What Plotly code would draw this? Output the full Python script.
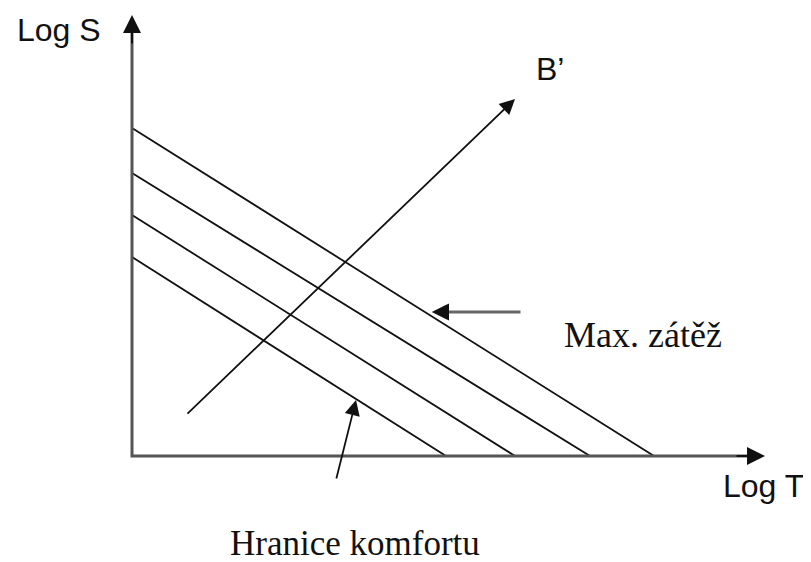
import plotly.graph_objects as go

# ---- Chart values (axis units: Log T horizontally, Log S vertically) ----
logS_intercepts = [3.98, 4.82, 5.66, 6.56]      # where each line meets the Log S axis
logT_intercepts = [6.28, 7.66, 9.16, 10.44]     # where each line meets the Log T axis
axis_titles = ["Log T", "Log S"]
axis_tips = [12.66, 8.82]                       # arrow tips of the T and S axes
b_arrow_tail = [1.08, 0.82]
b_arrow_tip = [7.66, 7.14]
b_label = "B’"
max_label = "Max. zátěž"
max_arrow_tail = [7.8, 2.88]
max_arrow_tip = [6.0, 2.88]
comfort_label = "Hranice komfortu"
comfort_arrow_tail = [4.08, -0.48]
comfort_arrow_tip = [4.48, 1.12]

# label anchor positions (axis units)
logS_label_pos = [-1.47, 8.53]
logT_label_pos = [12.62, -0.60]
b_label_pos = [8.36, 7.74]
max_label_pos = [10.22, 2.42]
comfort_label_pos = [4.46, -1.74]

fig = go.Figure()

# diagonal iso-lines
for s0, t0 in zip(logS_intercepts, logT_intercepts):
    fig.add_trace(go.Scatter(x=[0, t0], y=[s0, 0], mode="lines",
                             line=dict(color="#111111", width=1.8),
                             hoverinfo="skip", showlegend=False))

# axis lines (grey)
fig.add_trace(go.Scatter(x=[0, 0, axis_tips[0] - 0.2], y=[axis_tips[1] - 0.2, 0, 0],
                         mode="lines", line=dict(color="#555555", width=3),
                         hoverinfo="skip", showlegend=False))

ann = []
def arrow(tail, tip, color="#111111", width=1.8, size=1.6):
    ann.append(dict(x=tip[0], y=tip[1], ax=tail[0], ay=tail[1],
                    xref="x", yref="y", axref="x", ayref="y",
                    showarrow=True, arrowhead=2, arrowsize=size,
                    arrowwidth=width, arrowcolor=color, text="", standoff=0))

# axis arrowheads
arrow([0, axis_tips[1] - 0.6], [0, axis_tips[1]], width=2, size=1.8)
arrow([axis_tips[0] - 0.6, 0], [axis_tips[0], 0], width=2, size=1.8)
# B' arrow
arrow(b_arrow_tail, b_arrow_tip, width=1.8, size=1.7)
# Max. zátěž arrow (grey shaft, black head)
arrow(max_arrow_tail, max_arrow_tip, color="#666666", width=3, size=1.0)
ann.append(dict(x=max_arrow_tip[0], y=max_arrow_tip[1], ax=max_arrow_tip[0] + 0.3, ay=max_arrow_tip[1],
                xref="x", yref="y", axref="x", ayref="y", showarrow=True, arrowhead=2,
                arrowsize=1.7, arrowwidth=2, arrowcolor="#111111", text="", standoff=0))
# Hranice komfortu arrow
arrow(comfort_arrow_tail, comfort_arrow_tip, width=1.8, size=1.7)

sans = "Liberation Sans, Arial, sans-serif"
serif = "Liberation Serif, Times New Roman, serif"
def label(txt, pos, fam, size):
    ann.append(dict(x=pos[0], y=pos[1], xref="x", yref="y", text=txt, showarrow=False,
                    font=dict(family=fam, size=size, color="#111111"),
                    xanchor="center", yanchor="middle"))

label(axis_titles[1], logS_label_pos, sans, 32)
label(axis_titles[0], logT_label_pos, sans, 32)
label(b_label, b_label_pos, sans, 32)
label(max_label, max_label_pos, serif, 36)
label(comfort_label, comfort_label_pos, serif, 35)

# page has an 8px body margin: the figure starts 8px in from the top-left
fig.update_layout(
    width=803, height=554,
    margin=dict(l=0, r=0, t=0, b=0),
    paper_bgcolor="white", plot_bgcolor="white",
    xaxis=dict(range=[-2.48, 13.58], visible=False, fixedrange=True),
    yaxis=dict(range=[-2.12, 8.96], visible=False, fixedrange=True),
    annotations=ann,
    showlegend=False,
)

fig.write_html("out.html")
